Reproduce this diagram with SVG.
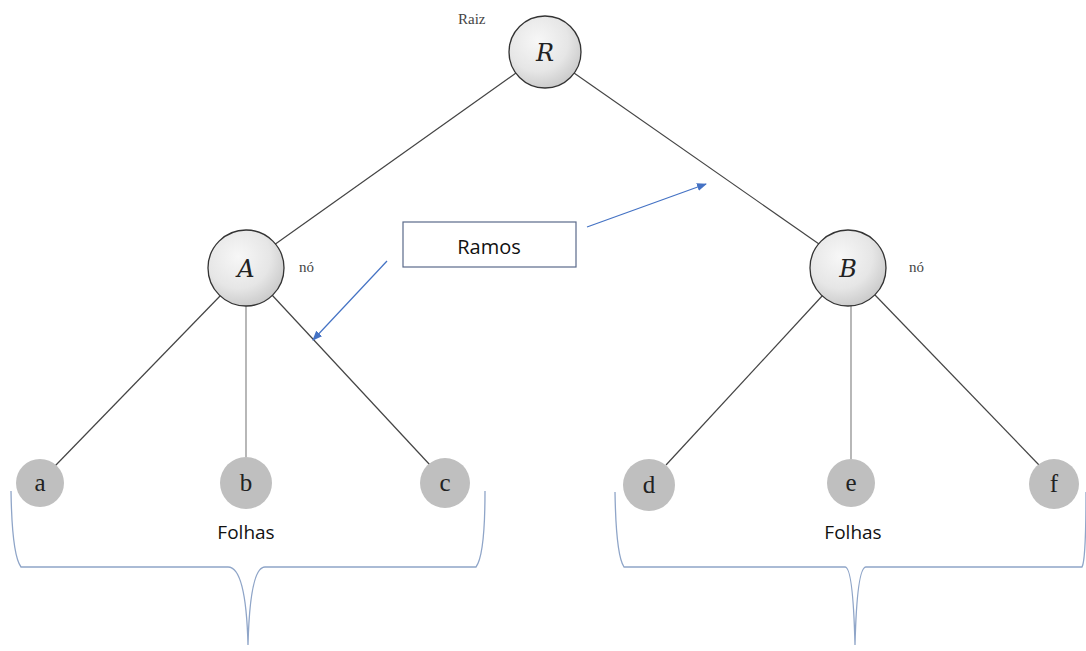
<svg xmlns="http://www.w3.org/2000/svg" width="1086" height="651" viewBox="0 0 1086 651">
<defs>
<radialGradient id="ng" cx="0.4" cy="0.35" r="0.7">
<stop offset="0" stop-color="#f7f7f7"/>
<stop offset="0.6" stop-color="#e6e6e6"/>
<stop offset="1" stop-color="#c8c8c8"/>
</radialGradient>
<marker id="ah" markerWidth="10" markerHeight="8" refX="9" refY="4" orient="auto" markerUnits="userSpaceOnUse">
<path d="M0,0 L10,4 L0,8 Z" fill="#4472c4"/>
</marker>
<style>
.edge{stroke:#444;stroke-width:1.2;fill:none}
.vedge{stroke:#888;stroke-width:1.2;fill:none}
.node{fill:url(#ng);stroke:#333;stroke-width:1.3}
.leaf{fill:#bfbfbf;stroke:none}
.nl{font-family:"DejaVu Serif","Liberation Serif",serif;font-style:italic;font-size:24px;fill:#222;text-anchor:middle}
.ll{font-family:"Liberation Serif","DejaVu Serif",serif;font-size:25px;fill:#222;text-anchor:middle}
.sm{font-family:"Liberation Serif",serif;font-size:15px;fill:#444}
.lab{font-family:"Open Sans","Liberation Sans",sans-serif;font-size:19px;fill:#111;text-anchor:middle}
.arr{stroke:#4472c4;stroke-width:1.2;fill:none;marker-end:url(#ah)}
.brace{stroke:#8fa5c8;stroke-width:1.3;fill:none}
</style>
</defs>
<rect width="1086" height="651" fill="#fff"/>
<g id="connectors">
<line class="edge" x1="516" y1="73" x2="274" y2="245"/>
<line class="edge" x1="574" y1="73" x2="819" y2="244"/>
<line class="edge" x1="221" y1="295" x2="55" y2="466"/>
<line class="vedge" x1="246" y1="305" x2="246" y2="457"/>
<line class="edge" x1="272" y1="295" x2="430" y2="465"/>
<line class="edge" x1="823" y1="295" x2="666" y2="465"/>
<line class="vedge" x1="851" y1="305" x2="851" y2="459"/>
<line class="edge" x1="875" y1="295" x2="1039" y2="465"/>
<line class="arr" x1="387" y1="261" x2="313" y2="340"/>
<line class="arr" x1="587" y1="227" x2="706" y2="184"/>
</g>
<g id="node-R">
<circle class="node" cx="545" cy="52" r="36"/>
<text class="nl" x="545" y="61">R</text>
<text class="sm" x="458" y="24">Raiz</text>
</g>
<g id="node-A">
<circle class="node" cx="246" cy="268" r="38"/>
<text class="nl" x="246" y="277">A</text>
<text class="sm" x="299" y="272">nó</text>
</g>
<g id="node-B">
<circle class="node" cx="848" cy="268" r="38"/>
<text class="nl" x="848" y="277">B</text>
<text class="sm" x="909" y="272">nó</text>
</g>
<g id="leaf-a"><circle class="leaf" cx="40" cy="483" r="24"/><text class="ll" x="40" y="491">a</text></g>
<g id="leaf-b"><circle class="leaf" cx="246" cy="483" r="26"/><text class="ll" x="246" y="491">b</text></g>
<g id="leaf-c"><circle class="leaf" cx="445" cy="483" r="25"/><text class="ll" x="445" y="491">c</text></g>
<g id="leaf-d"><circle class="leaf" cx="649" cy="485" r="26"/><text class="ll" x="649" y="493">d</text></g>
<g id="leaf-e"><circle class="leaf" cx="851" cy="483" r="24"/><text class="ll" x="851" y="491">e</text></g>
<g id="leaf-f"><circle class="leaf" cx="1054" cy="484" r="25"/><text class="ll" x="1054" y="492">f</text></g>
<g id="ramos">
<rect x="403" y="222" width="173" height="45" fill="#fff" stroke="#5a6a8a" stroke-width="1.2"/>
<text class="lab" x="489" y="254" style="font-size:20px">Ramos</text>
</g>
<g id="brace-left">
<path class="brace" d="M11,491 Q12,555 21,567 L228,567 Q246,567 248,645 Q250,567 265,567 L476,567 Q485,555 485,491"/>
<text class="lab" x="246" y="539">Folhas</text>
</g>
<g id="brace-right">
<path class="brace" d="M615,492 Q616,555 624,567 L845,567 Q853,567 855,645 Q857,567 866,567 L1082,567 Q1086,560 1086,492"/>
<text class="lab" x="853" y="539">Folhas</text>
</g>
</svg>
